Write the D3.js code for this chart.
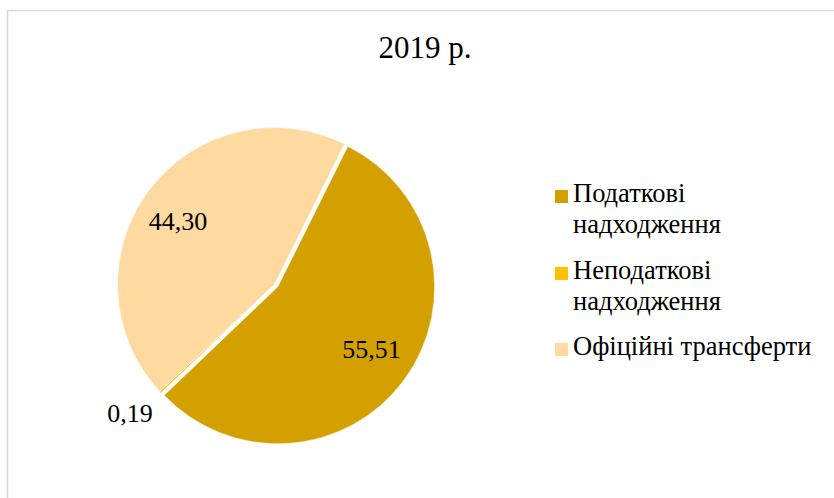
<!DOCTYPE html>
<html>
<head>
<meta charset="utf-8">
<script src="https://cdn.jsdelivr.net/npm/d3@7"></script>
<style>
  html, body { margin: 0; padding: 0; background: #fff; }
  svg { display: block; }
</style>
</head>
<body>
<svg id="chart" width="834" height="498"></svg>
<script>
const title = "2019 р.";
const categories = ["Податкові надходження", "Неподаткові надходження", "Офіційні трансферти"];
const legendLines = [["Податкові", "надходження"], ["Неподаткові", "надходження"], ["Офіційні трансферти"]];
const values = [55.51, 0.19, 44.30];
const valueLabels = ["55,51", "0,19", "44,30"];
const colors = ["#D4A000", "#FFC000", "#FED9A0"];

const FONT = "'Liberation Serif', 'Times New Roman', Times, serif";
const svg = d3.select("#chart");
const W = 834, H = 498;

// chart area border (top and left visible)
svg.append("rect")
  .attr("x", 7.5).attr("y", 10.5)
  .attr("width", W + 20).attr("height", H + 20)
  .attr("fill", "#fff")
  .attr("stroke", "#d9d9d9").attr("stroke-width", 1.5);

svg.append("text")
  .attr("x", 425).attr("y", 58)
  .attr("text-anchor", "middle")
  .attr("font-family", FONT)
  .attr("font-size", 31)
  .attr("fill", "#000")
  .text(title);

const cx = 274.5, cy = 284.5, r = 157;
const start = 26.5 * Math.PI / 180;
const pie = d3.pie().sort(null).value(d => d).startAngle(start).endAngle(start + 2 * Math.PI);
const arcs = pie(values);
const arc = d3.arc().innerRadius(0).outerRadius(r);
const explode = [4, 0, 0];

const g = svg.append("g").attr("transform", `translate(${cx},${cy})`);
g.selectAll("path").data(arcs).join("path")
  .attr("d", arc)
  .attr("fill", (d, i) => colors[i])
  .attr("stroke", "#fff")
  .attr("stroke-width", 0.6)
  .attr("transform", (d, i) => {
    const a = (d.startAngle + d.endAngle) / 2;
    const e = explode[i];
    return `translate(${e * Math.sin(a)},${-e * Math.cos(a)})`;
  });

// data labels
const labelPos = [[371.5, 358], [130, 422], [178, 230]];
svg.selectAll("text.val").data(valueLabels).join("text")
  .attr("class", "val")
  .attr("x", (d, i) => labelPos[i][0])
  .attr("y", (d, i) => labelPos[i][1])
  .attr("text-anchor", "middle")
  .attr("font-family", FONT)
  .attr("font-size", 26)
  .attr("fill", "#000")
  .text(d => d);

// legend
const legendY = [202, 279, 355];
const lg = svg.append("g");
legendLines.forEach((lines, i) => {
  lg.append("rect")
    .attr("x", 555).attr("y", legendY[i] - 12)
    .attr("width", 13).attr("height", 13)
    .attr("fill", colors[i]);
  const t = lg.append("text")
    .attr("x", 573).attr("y", legendY[i])
    .attr("font-family", FONT)
    .attr("font-size", 26.5)
    .attr("fill", "#000");
  lines.forEach((ln, j) => {
    t.append("tspan").attr("x", 573).attr("dy", j === 0 ? 0 : 31).text(ln);
  });
});
</script>
</body>
</html>
